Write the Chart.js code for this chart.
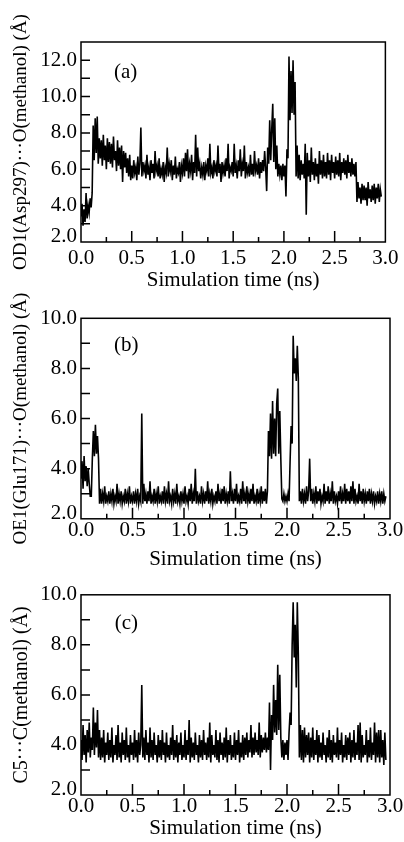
<!DOCTYPE html>
<html>
<head>
<meta charset="utf-8">
<script src="https://cdn.jsdelivr.net/npm/chart.js@4"></script>
<style>
  html, body { margin: 0; padding: 0; background: #fff; }
  body { width: 404px; height: 842px; position: relative; overflow: hidden; }
  .panel { position: absolute; left: 0; width: 404px; }
  .panel canvas { display: block; }
</style>
</head>
<body>
<div class="panel" style="top:0;height:296px"><canvas id="chartA"></canvas></div>
<div class="panel" style="top:280px;height:292px"><canvas id="chartB"></canvas></div>
<div class="panel" style="top:556px;height:286px"><canvas id="chartC"></canvas></div>
<script>
// sampling interval of the traces (ns)
const timeStep = 0.01;

// (a) OD1(Asp297)...O(methanol), one row = 0.1 ns
const distA = [
  3.4, 4.1, 2.9, 3.8, 3.1, 4.7, 3.3, 4.0, 3.6, 4.4,
  3.9, 4.7, 8.4, 6.5, 8.8, 6.9, 8.9, 6.3, 7.7, 6.6,
  7.6, 6.2, 7.9, 6.5, 7.3, 6.0, 7.7, 6.4, 7.5, 6.3,
  7.4, 6.1, 7.8, 6.5, 7.0, 5.9, 7.6, 6.2, 7.2, 6.0,
  7.3, 5.3, 7.0, 6.1, 6.9, 5.8, 6.6, 5.6, 6.8, 5.4,
  6.2, 5.5, 6.5, 5.8, 6.1, 5.4, 6.7, 5.7, 6.3, 8.3,
  5.6, 6.4, 5.9, 6.2, 5.5, 6.8, 5.7, 6.1, 5.4, 6.5,
  5.8, 6.3, 5.5, 7.0, 5.9, 6.2, 5.6, 6.6, 5.5, 6.0,
  5.7, 6.4, 5.3, 6.1, 5.8, 7.2, 5.6, 6.3, 5.9, 6.5,
  5.4, 6.2, 5.7, 6.7, 5.5, 6.0, 5.8, 6.4, 5.3, 6.2,
  5.8, 6.6, 5.6, 6.9, 5.9, 7.1, 5.5, 6.3, 5.9, 6.8,
  5.4, 6.4, 5.8, 7.9, 5.6, 7.2, 5.9, 6.3, 5.5, 6.1,
  5.7, 6.4, 5.4, 6.2, 5.9, 6.6, 5.6, 7.4, 5.8, 6.1,
  5.5, 6.5, 5.9, 6.2, 5.6, 7.3, 5.8, 6.3, 5.3, 6.4,
  5.8, 6.2, 5.6, 6.6, 5.9, 7.4, 5.5, 6.1, 5.9, 6.4,
  5.6, 7.4, 5.8, 6.2, 5.5, 6.5, 5.9, 7.1, 5.6, 6.3,
  5.9, 7.3, 5.5, 6.4, 5.8, 6.1, 5.6, 6.8, 5.7, 6.3,
  5.6, 7.0, 5.9, 6.2, 5.7, 6.6, 5.5, 6.4, 5.8, 6.5,
  5.9, 7.0, 6.1, 4.8, 7.2, 6.3, 8.7, 6.5, 8.2, 9.6,
  6.4, 8.8, 6.0, 7.3, 5.6, 6.3, 5.7, 6.2, 5.4, 6.3,
  5.6, 6.2, 4.5, 7.1, 6.6, 12.2, 8.7, 11.4, 9.1, 12.0,
  9.0, 10.8, 5.6, 7.3, 5.5, 6.8, 5.4, 6.5, 5.7, 6.3,
  5.5, 7.4, 3.5, 6.9, 5.6, 6.5, 5.3, 7.2, 5.7, 6.4,
  5.4, 6.6, 5.6, 6.3, 5.2, 7.0, 5.7, 6.5, 5.5, 6.8,
  5.6, 6.4, 5.5, 6.9, 5.7, 6.5, 5.4, 6.8, 5.8, 6.4,
  5.5, 6.7, 5.7, 6.5, 5.6, 6.9, 5.4, 6.4, 5.8, 6.6,
  5.7, 6.5, 5.5, 6.8, 5.8, 6.4, 5.6, 6.6, 5.7, 6.3,
  5.6, 6.4, 4.2, 5.3, 4.4, 5.0, 4.1, 5.2, 4.3, 5.1,
  4.3, 5.0, 4.0, 5.3, 4.4, 4.9, 4.2, 5.1, 4.3, 5.2,
  4.1, 5.0, 4.4, 5.2, 4.2, 4.9, 4.5
];

// (b) OE1(Glu171)...O(methanol)
const distB = [
  3.6, 4.3, 3.2, 4.5, 3.5, 4.1, 3.3, 4.0, 3.4, 2.9,
  2.9, 4.4, 5.5, 4.5, 5.75, 4.6, 5.3, 4.4, 2.6, 3.2,
  2.6, 3.0, 2.7, 3.3, 2.6, 2.9, 2.7, 3.1, 2.6, 3.0,
  2.7, 3.2, 2.6, 2.9, 2.7, 3.4, 2.6, 3.0, 2.7, 3.1,
  2.6, 2.9, 2.7, 3.2, 2.6, 3.0, 2.7, 3.3, 2.6, 2.9,
  2.7, 3.1, 2.6, 3.0, 2.7, 3.2, 2.6, 2.9, 2.7, 6.2,
  2.6, 3.4, 2.7, 3.0, 2.6, 3.1, 2.7, 3.5, 2.6, 2.9,
  2.7, 3.2, 2.6, 3.0, 2.7, 3.3, 2.6, 2.9, 2.7, 3.1,
  2.6, 3.3, 2.7, 3.0, 2.6, 3.5, 2.7, 2.9, 2.6, 3.2,
  2.7, 3.0, 2.6, 3.4, 2.7, 2.9, 2.6, 3.1, 2.7, 3.0,
  2.6, 3.3, 2.7, 2.9, 2.6, 3.2, 2.7, 3.4, 2.6, 3.0,
  2.7, 4.0, 2.6, 3.1, 2.7, 2.9, 2.6, 3.3, 2.7, 3.0,
  2.6, 3.1, 2.7, 3.5, 2.6, 3.0, 2.7, 3.2, 2.6, 2.9,
  2.7, 3.1, 2.6, 3.4, 2.7, 3.0, 2.6, 3.2, 2.7, 3.3,
  2.6, 3.0, 2.7, 3.1, 2.6, 3.9, 2.7, 3.0, 2.6, 3.2,
  2.7, 3.4, 2.6, 2.9, 2.7, 3.2, 2.6, 3.5, 2.7, 3.0,
  2.6, 3.3, 2.7, 3.0, 2.6, 3.2, 2.7, 3.4, 2.6, 2.9,
  2.7, 3.2, 2.6, 3.0, 2.7, 3.3, 2.6, 3.1, 2.7, 3.2,
  2.6, 3.1, 5.5, 4.5, 6.2, 4.4, 6.7, 4.6, 6.0, 4.5,
  6.6, 7.2, 4.6, 6.3, 4.4, 2.8, 2.7, 3.0, 2.7, 2.9,
  2.7, 3.0, 2.7, 4.3, 5.7, 5.0, 9.3, 7.8, 8.4, 7.5,
  8.9, 7.6, 2.7, 3.1, 2.6, 3.2, 2.7, 3.0, 2.6, 3.3,
  2.7, 3.1, 4.4, 2.7, 3.2, 2.6, 3.0, 2.7, 3.3, 2.6,
  3.1, 2.7, 3.2, 2.6, 2.9, 2.7, 3.4, 2.6, 3.1, 2.7,
  3.3, 2.6, 3.0, 2.7, 3.5, 2.6, 3.1, 2.7, 2.9, 2.6,
  3.1, 2.7, 3.3, 2.6, 3.0, 2.7, 3.4, 2.6, 3.2, 2.7,
  3.1, 2.6, 3.3, 2.7, 3.5, 2.6, 3.2, 2.7, 2.9, 2.6,
  3.4, 2.7, 3.1, 2.6, 3.2, 2.7, 3.0, 2.6, 3.1, 2.7,
  3.2, 2.6, 3.0, 2.7, 3.1, 2.6, 2.9, 2.7, 3.1, 2.6,
  3.0, 2.7, 3.1, 2.6, 3.0, 2.7, 2.9
];

// (c) C5...C(methanol)
const distC = [
  4.2, 3.4, 4.8, 3.6, 4.4, 3.3, 4.6, 3.7, 4.9, 3.5,
  4.3, 3.8, 5.5, 3.6, 4.9, 3.9, 5.4, 3.5, 4.6, 3.4,
  4.3, 3.5, 4.6, 3.3, 4.1, 3.6, 4.5, 3.4, 4.2, 3.5,
  4.7, 3.3, 4.0, 3.6, 4.4, 3.4, 4.8, 3.5, 4.1, 3.3,
  4.5, 3.6, 4.2, 3.4, 4.7, 3.5, 4.0, 3.3, 4.4, 3.6,
  4.1, 3.4, 4.6, 3.5, 4.2, 3.3, 4.5, 3.6, 4.0, 6.4,
  3.5, 4.3, 3.4, 4.6, 3.6, 4.1, 3.3, 4.7, 3.5, 4.2,
  3.4, 4.5, 3.6, 4.0, 3.3, 4.4, 3.5, 4.2, 3.4, 4.6,
  3.6, 4.1, 3.3, 4.5, 3.5, 4.0, 3.4, 4.3, 3.6, 4.8,
  3.4, 4.2, 3.5, 4.4, 3.3, 4.1, 3.6, 4.5, 3.4, 4.0,
  3.5, 4.6, 3.4, 4.2, 3.6, 5.0, 3.3, 4.3, 3.5, 4.1,
  3.4, 4.5, 3.6, 4.0, 3.3, 4.4, 3.5, 4.2, 3.4, 4.6,
  3.6, 4.1, 3.4, 4.3, 3.5, 4.9, 3.3, 4.4, 3.6, 4.0,
  3.5, 4.6, 3.4, 4.2, 3.3, 4.5, 3.6, 4.1, 3.4, 4.3,
  3.5, 4.7, 3.3, 4.2, 3.6, 4.4, 3.4, 4.0, 3.5, 4.5,
  3.4, 4.2, 3.6, 4.6, 3.3, 4.1, 3.5, 4.4, 3.4, 4.3,
  3.6, 4.5, 3.5, 4.2, 3.7, 4.8, 3.5, 4.3, 3.6, 4.5,
  3.7, 4.2, 3.6, 4.9, 3.5, 4.4, 3.7, 4.3, 3.8, 4.5,
  3.7, 4.3, 3.8, 5.7, 3.0, 5.2, 4.2, 6.4, 4.5, 5.8,
  4.4, 7.2, 4.6, 6.8, 4.3, 3.5, 4.2, 3.4, 4.1, 3.6,
  4.2, 3.4, 4.5, 5.3, 4.8, 8.0, 9.7, 7.5, 8.8, 6.3,
  9.7, 7.6, 3.5, 4.8, 3.4, 4.6, 3.3, 4.7, 3.5, 4.4,
  3.6, 4.5, 3.3, 4.3, 3.5, 4.7, 3.4, 4.2, 3.6, 4.6,
  3.3, 4.4, 3.5, 4.1, 3.4, 4.5, 3.6, 4.0, 3.3, 4.3,
  3.5, 4.6, 3.4, 4.2, 3.3, 4.4, 3.6, 4.1, 3.5, 4.7,
  3.4, 4.2, 3.6, 4.5, 3.3, 4.0, 3.5, 4.4, 3.4, 4.3,
  3.6, 4.5, 3.3, 4.2, 3.5, 4.6, 3.4, 4.1, 3.6, 4.8,
  3.4, 4.9, 3.3, 4.4, 3.5, 4.0, 3.6, 4.6, 3.3, 4.2,
  3.5, 4.7, 3.4, 4.1, 3.6, 4.9, 3.3, 4.5, 3.5, 4.6,
  3.3, 4.6, 3.5, 4.2, 3.2, 4.5, 3.4
];

const xTicks = [0, 0.5, 1, 1.5, 2, 2.5, 3];
const yTicksA = [2, 4, 6, 8, 10, 12];
const yTicksB = [2, 4, 6, 8, 10];
const yTicksC = [2, 4, 6, 8, 10];

const serif = "'Liberation Serif', 'Times New Roman', serif";
const tickFont = { family: serif, size: 21, lineHeight: 1 };
const titleFont = { family: serif, size: 21, lineHeight: 1 };

// frame, inward tick marks and panel letter
const frameTicks = {
  id: 'frameTicks',
  afterDatasetsDraw(chart, args, opts) {
    const { ctx, chartArea: a, scales: { x, y } } = chart;
    ctx.save();
    ctx.strokeStyle = '#000';
    ctx.lineWidth = 1.5;
    ctx.strokeRect(a.left, a.top, a.right - a.left, a.bottom - a.top);
    ctx.beginPath();
    for (let k = 1; k < 12; k++) {
      const px = x.getPixelForValue(k * 0.25);
      const len = k % 2 === 0 ? 11 : 5;
      ctx.moveTo(px, a.bottom);
      ctx.lineTo(px, a.bottom - len);
    }
    for (let v = Math.ceil(y.min) + 1; v < y.max; v++) {
      const py = y.getPixelForValue(v);
      ctx.moveTo(a.left, py);
      ctx.lineTo(a.left + 9, py);
    }
    ctx.stroke();
    ctx.fillStyle = '#000';
    ctx.font = "21px " + serif;
    ctx.textAlign = 'center';
    ctx.textBaseline = 'middle';
    ctx.fillText(opts.letter, x.getPixelForValue(opts.at[0]), y.getPixelForValue(opts.at[1]));
    ctx.restore();
  }
};

function makePanel(id, values, yMin, yMax, yTicks, yTitle, letter, letterAt, lay) {
  new Chart(document.getElementById(id), {
    type: 'line',
    data: {
      datasets: [{
        data: values.map((v, i) => ({ x: i * timeStep, y: v })),
        borderColor: '#000',
        borderWidth: 1.6,
        pointRadius: 0,
        tension: 0
      }]
    },
    options: {
      responsive: true,
      maintainAspectRatio: false,
      animation: false,
      layout: { padding: { top: lay.top, right: 14, bottom: lay.bottom, left: 0 } },
      plugins: {
        legend: { display: false },
        tooltip: { enabled: false },
        frameTicks: { letter: letter, at: letterAt }
      },
      scales: {
        x: {
          type: 'linear', min: 0, max: 3,
          grid: { display: false, drawTicks: false }, border: { display: false },
          afterBuildTicks: s => { s.ticks = xTicks.map(v => ({ value: v })); },
          afterFit: s => { s.height = lay.xAxisH; },
          ticks: { padding: lay.xPad, color: '#000', font: tickFont, maxRotation: 0, autoSkip: false,
                   callback: v => v.toFixed(1) },
          title: { display: true, text: 'Simulation time (ns)', color: '#000', font: titleFont,
                   padding: { top: 0, bottom: 0 } }
        },
        y: {
          type: 'linear', min: yMin, max: yMax,
          grid: { display: false, drawTicks: false }, border: { display: false },
          afterBuildTicks: s => { s.ticks = yTicks.map(v => ({ value: v })); },
          afterFit: s => { s.width = 81; },
          ticks: {
            padding: 4, color: '#000',
            // the bottom label sits a little above its tick, clear of the x labels
            font: c => (c.tick && c.tick.value === yMin) ? { family: serif, size: 21, lineHeight: 0.5 } : tickFont,
            callback: v => v === yMin ? [v.toFixed(1), ''] : v.toFixed(1)
          },
          title: { display: true, text: yTitle, color: '#000',
                   font: { family: serif, size: lay.yTitleSize, lineHeight: 1 },
                   padding: { top: 12, bottom: 0 } }
        }
      }
    },
    plugins: [frameTicks]
  });
}

makePanel('chartA', distA, 2, 13, yTicksA, 'OD1(Asp297)···O(methanol) (Å)', '(a)', [0.44, 11.35],
  { top: 42, bottom: 5.5, xAxisH: 48.5, xPad: 5.5, yTitleSize: 19 });
makePanel('chartB', distB, 2, 10, yTicksB, 'OE1(Glu171)···O(methanol) (Å)', '(b)', [0.44, 8.9],
  { top: 38.3, bottom: 2.5, xAxisH: 50.7, xPad: 0.7, yTitleSize: 19 });
makePanel('chartC', distC, 2, 10, yTicksC, 'C5···C(methanol) (Å)', '(c)', [0.44, 8.86],
  { top: 38.8, bottom: 3.5, xAxisH: 43.5, xPad: 0.5, yTitleSize: 20 });
</script>
</body>
</html>
